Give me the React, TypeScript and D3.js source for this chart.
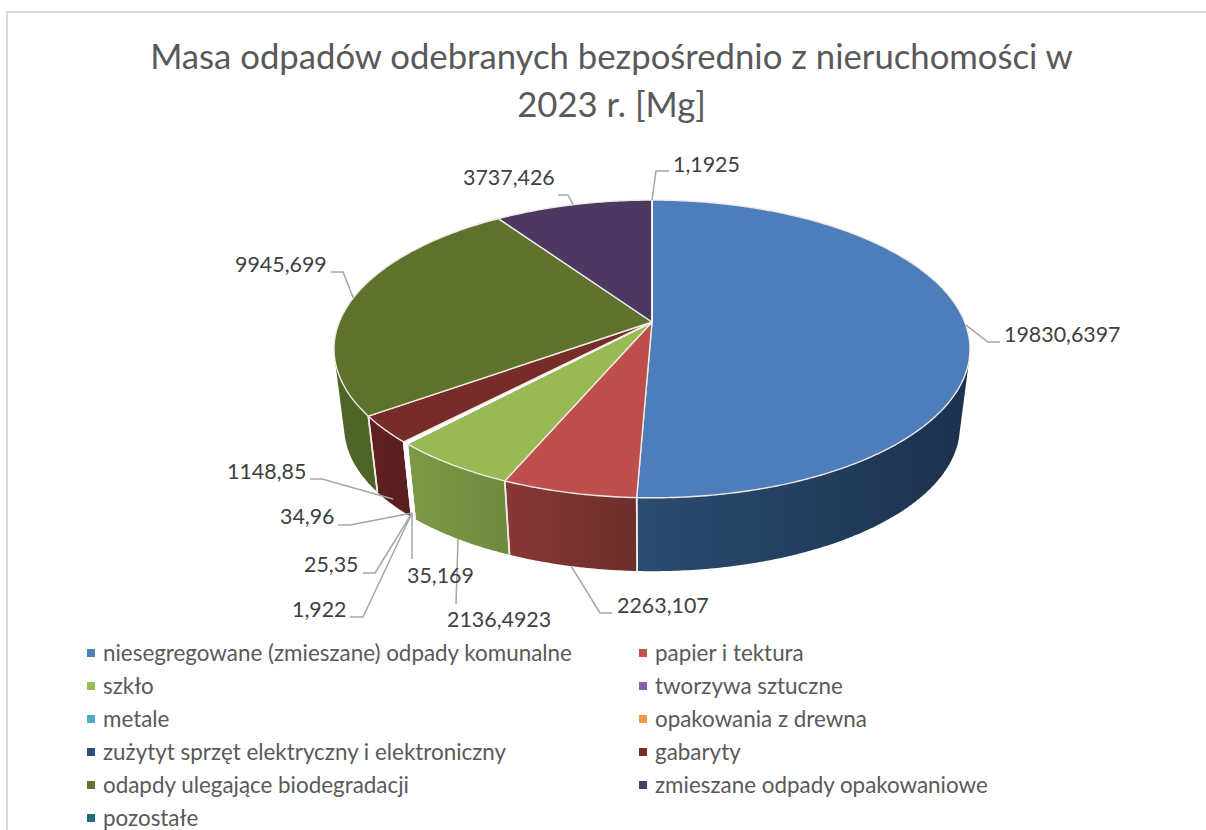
import React from "react";
import * as d3 from "d3";

const TITLE_LINES = ["Masa odpadów odebranych bezpośrednio z nieruchomości w", "2023 r. [Mg]"];
const CATEGORIES = [
  "niesegregowane (zmieszane) odpady komunalne", "papier i tektura", "szkło", "tworzywa sztuczne",
  "metale", "opakowania z drewna", "zużytyt sprzęt elektryczny i elektroniczny", "gabaryty",
  "odapdy ulegające biodegradacji", "zmieszane odpady opakowaniowe", "pozostałe",
];
const VALUES = [19830.6397, 2263.107, 2136.4923, 35.169, 25.35, 1.922, 34.96, 1148.85, 9945.699, 3737.426, 1.1925];
const VALUE_LABELS = ["19830,6397", "2263,107", "2136,4923", "35,169", "25,35", "1,922", "34,96", "1148,85", "9945,699", "3737,426", "1,1925"];
const TOP_COLORS = ["#4d7ebb", "#be4f4c", "#99b955", "#8064a2", "#4bacc6", "#f79646", "#2c4d75", "#772c2a", "#5e722d", "#4c3860", "#276a7c"];
const LEGEND_COLORS = ["#4f81bd", "#c0504d", "#9bbb59", "#8064a2", "#4bacc6", "#f79646", "#2c4d75", "#772c2a", "#5f7530", "#4d3b62", "#276a7c"];
const SIDE_LEFT = ["#2b4c71", "#883835", "#7c9a45", "#5c4a78", "#38808f", "#b86f32", "#203a58", "#5f2020", "#4f6527", "#3a2b4a", "#1d5060"];
const SIDE_RIGHT = ["#1c314d", "#6e2e2a", "#6f8a3f", "#4c3d63", "#2e6a78", "#9a5d2a", "#1a2f48", "#5a1e1e", "#4c6126", "#33263f", "#184350"];

// layout of the value labels: [text x, baseline y, elbow x, elbow y, end x, end y, anchor mode]
const LABEL_LAYOUT: [number, number, number, number, number, number, string][] = [
  [1004, 342, 988, 342, 1000, 342, "top"],
  [617, 613, 600, 613, 612, 613, "bottom"],
  [447, 627, 456, 604, 456, 604, "bottom"],
  [407, 583, 412, 559, 412, 559, "hub"],
  [304, 572, 375, 573, 363, 573, "hub"],
  [292, 617, 363, 617, 350, 617, "hub"],
  [280, 524, 350, 525, 338, 525, "hub"],
  [227, 479, 322, 479, 310, 479, "wall"],
  [235, 272, 343, 272, 331, 272, "top"],
  [463, 185, 568, 195, 558, 195, "top"],
  [673, 172, 656, 171, 669, 171, "top"],
];

const CX = 652, CY = 322, A = 312.7, B = 144, K = 0.181;
const BOTTOM_CY = 401, BOTTOM_SCALE = 0.968;
const HUB: [number, number] = [412, 513];

const project = (theta: number): [number, number] => {
  const u = Math.sin(theta), v = -Math.cos(theta), d = 1 - K * v;
  return [A * u / d, B * v / d];
};
const topPt = (t: number): [number, number] => {
  const [x, y] = project(t);
  return [CX + x, CY + y];
};
const botPt = (t: number): [number, number] => {
  const [x, y] = project(t);
  return [CX + BOTTOM_SCALE * x, BOTTOM_CY + BOTTOM_SCALE * y];
};

const pieGen = d3.pie<number>().sort(null).value((d) => d).startAngle(0).endAngle(2 * Math.PI);
const arcs = pieGen(VALUES);
const line = d3.line();

const sweep = (a: number, b: number) => {
  const n = Math.max(2, Math.ceil((b - a) / 0.01));
  return d3.range(n + 1).map((i) => a + ((b - a) * i) / n);
};

// only the front of the cake shows a wall
const FRONT_FROM = Math.PI * 0.5, FRONT_TO = Math.PI * 1.5;

const SANS = "Lato, Carlito, sans-serif";

export default function App() {
  const walls = arcs
    .map((a, i) => ({ a, i, s: Math.max(a.startAngle, FRONT_FROM), e: Math.min(a.endAngle, FRONT_TO) }))
    .filter((w) => w.e > w.s);
  const wallOrder = [...walls].sort((p, q) => Math.abs(Math.PI - (q.s + q.e) / 2) - Math.abs(Math.PI - (p.s + p.e) / 2));
  const edges = walls.flatMap((w) => [w.s, w.e]).filter((t) => t > FRONT_FROM + 1e-6 && t < FRONT_TO - 1e-6);

  const wallPoly = (w: (typeof walls)[number]) => {
    const crossesSilhouette = w.a.startAngle < FRONT_FROM || w.a.endAngle > FRONT_TO;
    if (crossesSilhouette) {
      const ts = sweep(w.a.startAngle, w.a.endAngle);
      return d3.polygonHull([...ts.map(topPt), ...ts.map(botPt)]) as [number, number][];
    }
    const ts = sweep(w.s, w.e);
    return [...ts.map(topPt), ...[...ts].reverse().map(botPt)];
  };

  return (
    <svg width={1206} height={830} viewBox="0 0 1206 830" style={{ position: "absolute", left: 0, top: 0, display: "block" }} fontFamily={SANS}>
      <defs>
        {walls.map((w) => (
          <linearGradient key={w.i} id={`wall${w.i}`} x1="0" x2="1" y1="0" y2="0">
            <stop offset="0" stopColor={SIDE_LEFT[w.i]} />
            <stop offset="1" stopColor={SIDE_RIGHT[w.i]} />
          </linearGradient>
        ))}
      </defs>
      <rect width={1206} height={830} fill="#fff" />
      <path d="M7 830V12H1206" fill="none" stroke="#d9d9d9" strokeWidth={2} />

      {TITLE_LINES.map((t, i) => (
        <text key={t} x={611.5} y={69 + i * 48} textAnchor="middle" fontSize={34.7} fill="#595959">{t}</text>
      ))}

      {wallOrder.map((w) => (
        <path key={w.i} d={(line(wallPoly(w)) ?? "") + "Z"} fill={`url(#wall${w.i})`} />
      ))}
      {edges.map((t, i) => (
        <path key={i} d={line([topPt(t), botPt(t)]) ?? ""} stroke="#f2ebe6" strokeWidth={1.6} fill="none" />
      ))}
      {walls.filter((w) => VALUES[w.i] < 100).map((w) => (
        <path key={w.i} d={(line([...sweep(w.s, w.e).map(topPt), ...sweep(w.s, w.e).reverse().map(botPt)]) ?? "") + "Z"}
          fill="#fff" stroke="#fff" strokeWidth={1.4} />
      ))}

      {arcs.map((a, i) => {
        const pts: [number, number][] = [[CX, CY], ...sweep(a.startAngle, a.endAngle).map(topPt)];
        const tiny = VALUES[i] < 100;
        return (
          <path key={i} d={(line(pts) ?? "") + "Z"} fill={tiny ? "#fff" : TOP_COLORS[i]}
            stroke={tiny ? "#fff" : "#efe9e4"} strokeWidth={1.4} strokeLinejoin="round" />
        );
      })}

      {arcs.map((a, i) => {
        const [tx, ty, ex, ey, sx, sy, mode] = LABEL_LAYOUT[i];
        const mid = (a.startAngle + a.endAngle) / 2;
        const b = botPt(mid);
        const anchor: [number, number] = mode === "hub" ? HUB : mode === "top" ? topPt(mid) : mode === "wall" ? [b[0], b[1] - 6] : b;
        return (
          <g key={i}>
            <path d={line([anchor, [ex, ey], [sx, sy]]) ?? ""} fill="none" stroke="#a6a6a6" strokeWidth={1.5} />
            <text x={tx} y={ty} fontSize={21.4} fill="#404040">{VALUE_LABELS[i]}</text>
          </g>
        );
      })}

      {CATEGORIES.map((c, i) => {
        const col = i % 2, row = Math.floor(i / 2);
        const x = col === 0 ? 87 : 639;
        const y = 653 + row * 33;
        return (
          <g key={c}>
            <rect x={x} y={y - 4} width={8} height={8} fill={LEGEND_COLORS[i]} />
            <text x={x + 16} y={y + 8} fontSize={22.4} fill="#595959">{c}</text>
          </g>
        );
      })}
    </svg>
  );
}
